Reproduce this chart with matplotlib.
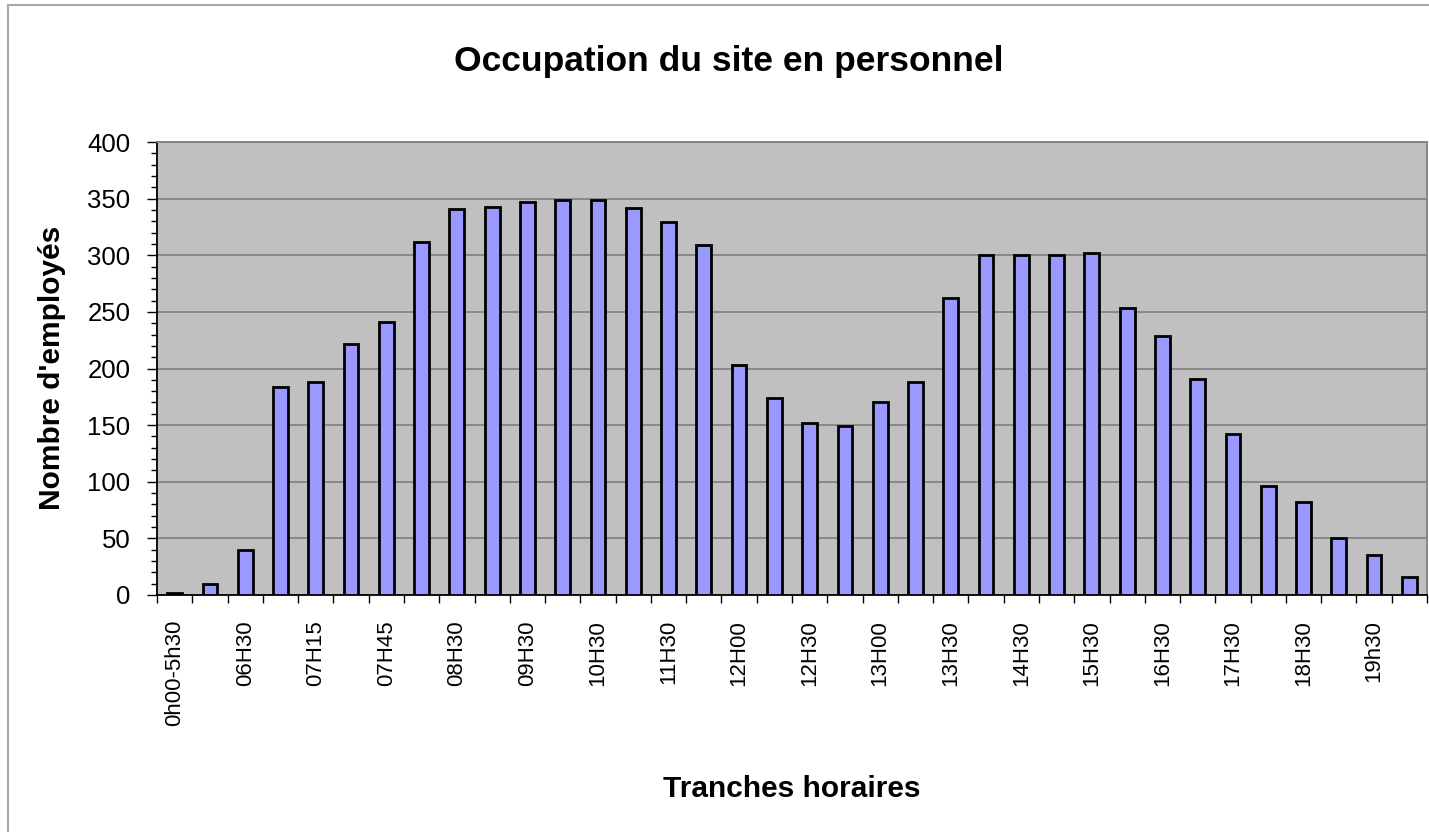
"""
Occupation du site en personnel: number of employees on site by time slot.
Writes out.png (1429x832).
"""

import numpy as np
import matplotlib
matplotlib.use("Agg")
import matplotlib.pyplot as plt
from matplotlib.patches import Rectangle

plt.rcParams["font.family"] = ["Liberation Sans", "DejaVu Sans"]

# time slots (only every other one is labelled on the axis)
SLOTS = [
    "0h00-5h30", "06H00", "06H30", "07H00", "07H15", "07H30",
    "07H45", "08H00", "08H30", "09H00", "09H30", "10H00",
    "10H30", "11H00", "11H30", "11H45", "12H00", "12H15",
    "12H30", "12H45", "13H00", "13H15", "13H30", "14H00",
    "14H30", "15H00", "15H30", "16H00", "16H30", "17H00",
    "17H30", "18H00", "18H30", "19H00", "19h30", "20h00",
]
EMPLOYEES = [
    2, 10, 40, 184, 188, 222,
    241, 312, 341, 343, 347, 349,
    349, 342, 329, 309, 203, 174,
    152, 149, 170, 188, 262, 300,
    300, 300, 302, 253, 229, 191,
    142, 96, 82, 50, 35, 16,
]
Y_MAX = 400
Y_STEP = 50

BAR_COLOR = "#9999FF"
PLOT_BG = "#C0C0C0"
GRID_COLOR = "#7A7A7A"

W, H = 1429, 832
fig = plt.figure(figsize=(W / 100, H / 100), dpi=100)
fig.patch.set_facecolor("white")

# chart-area frame (Excel style), runs off the right/bottom edge
fig.patches.append(Rectangle((8 / W, -0.05), 1.1, 1 - 5 / H + 0.05,
                             transform=fig.transFigure, fill=False,
                             edgecolor="#A8A8A8", lw=1.5))

ax = fig.add_axes([157 / W, 1 - 595 / H, 1270 / W, 453 / H])
ax.set_facecolor(PLOT_BG)

x = np.arange(len(SLOTS))
ax.bar(x, EMPLOYEES, width=0.42, color=BAR_COLOR, edgecolor="black",
       linewidth=2.0, zorder=3)

ax.set_xlim(-0.5, len(SLOTS) - 0.5)
ax.set_ylim(0, Y_MAX)

# y axis: major every 50, minor every 10
ax.set_yticks(np.arange(0, Y_MAX + 1, Y_STEP))
ax.set_yticks(np.arange(0, Y_MAX + 1, 10), minor=True)
ax.tick_params(axis="y", which="major", direction="out", length=7,
               width=1, labelsize=18.5, pad=12, colors="black")
ax.tick_params(axis="y", which="minor", direction="out", length=4.5,
               width=1, color="black")
ax.yaxis.grid(True, which="major", color=GRID_COLOR, lw=1.1, zorder=1)
ax.set_axisbelow(True)

# x axis: ticks on category boundaries, labels on every other category
ax.set_xticks(np.arange(-0.5, len(SLOTS), 1))
ax.set_xticklabels([])
ax.tick_params(axis="x", which="major", direction="out", length=5.5,
               width=1, color="black")
ax.set_xticks(x[::2], minor=True)
ax.set_xticklabels(SLOTS[::2], minor=True, rotation=90, fontsize=16)
ax.tick_params(axis="x", which="minor", length=0, pad=18)

for side in ("left", "bottom"):
    ax.spines[side].set_color("black")
    ax.spines[side].set_linewidth(1.3)
for side in ("top", "right"):
    ax.spines[side].set_color("#808080")
    ax.spines[side].set_linewidth(1.3)

fig.text(729 / W, 1 - 62 / H, "Occupation du site en personnel",
         ha="center", va="center", fontsize=25.5, fontweight="bold")
fig.text(52 / W, 1 - 368 / H, "Nombre d'employés", rotation=90,
         ha="center", va="center", fontsize=21.5, fontweight="bold")
fig.text(792 / W, 1 - 789 / H, "Tranches horaires",
         ha="center", va="center", fontsize=21.5, fontweight="bold")

fig.savefig("out.png", dpi=100)
plt.close(fig)
